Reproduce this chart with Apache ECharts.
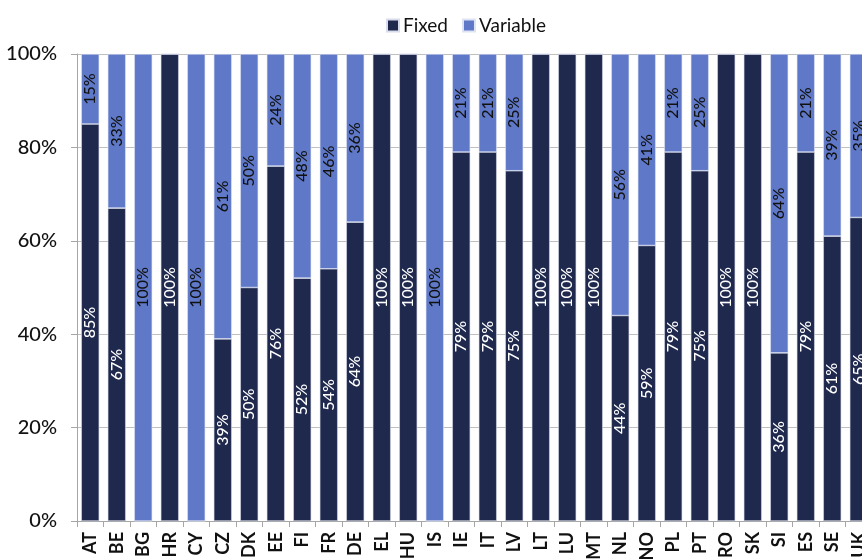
<!DOCTYPE html>
<html>
<head>
<meta charset="utf-8">
<title>Fixed vs Variable</title>
<script src="https://cdn.jsdelivr.net/npm/echarts@6/dist/echarts.min.js"></script>
<style>
  html, body { margin: 0; padding: 0; background: #ffffff; }
  #chart { width: 862px; height: 560px; }
</style>
</head>
<body>
<div id="chart"></div>
<script>
// Country codes along the x axis
const countries = ['AT','BE','BG','HR','CY','CZ','DK','EE','FI','FR','DE','EL','HU','IS','IE','IT','LV','LT','LU','MT','NL','NO','PL','PT','RO','SK','SI','ES','SE','UK'];

// Share of fixed component (%)
const fixedShare = [85,67,0,100,0,39,50,76,52,54,64,100,100,0,79,79,75,100,100,100,44,59,79,75,100,100,36,79,61,65];

// Share of variable component (%)
const variableShare = [15,33,100,0,100,61,50,24,48,46,36,0,0,100,21,21,25,0,0,0,56,41,21,25,0,0,64,21,39,35];

// Y axis tick values (%)
const yTicks = [0,20,40,60,80,100];

const FONT = 'Lato, "Open Sans", sans-serif';
const DARK = '#1f284d';
const LIGHT = '#5f79c8';

const chart = echarts.init(document.getElementById('chart'), null, { renderer: 'canvas' });

function pctLabel(p) {
  return p.value > 0 ? p.value + '%' : '';
}

chart.setOption({
  animation: false,
  backgroundColor: '#ffffff',
  legend: {
    left: 381,
    top: 11,
    itemWidth: 12,
    itemHeight: 12,
    itemGap: 14,
    icon: 'rect',
    textStyle: { fontFamily: FONT, fontSize: 19, color: '#111111', padding: [0, 0, 0, -1] },
    data: ['Fixed', 'Variable']
  },
  grid: {
    left: 77,
    top: 54,
    width: 795,
    height: 467,
    outerBoundsMode: 'none',
    containLabel: false
  },
  xAxis: {
    type: 'category',
    data: countries,
    axisLine: { show: true, lineStyle: { color: '#a6a6a6', width: 1 } },
    axisTick: { show: true, length: 6, alignWithLabel: false, lineStyle: { color: '#a6a6a6' } },
    axisLabel: {
      rotate: 90,
      interval: 0,
      margin: 11,
      fontFamily: FONT,
      fontSize: 18,
      fontWeight: 'bold',
      color: '#111111'
    }
  },
  yAxis: {
    type: 'value',
    min: 0,
    max: 100,
    interval: 20,
    axisLine: { show: true, lineStyle: { color: '#a6a6a6', width: 1 } },
    axisTick: { show: true, length: 6, lineStyle: { color: '#a6a6a6' } },
    splitLine: { show: true, lineStyle: { color: '#bfbfbf', width: 1 } },
    axisLabel: {
      margin: 20,
      fontFamily: FONT,
      fontSize: 20,
      fontWeight: 500,
      color: '#111111',
      formatter: function (v) { return yTicks.indexOf(v) >= 0 ? v + '%' : ''; }
    }
  },
  series: [
    {
      name: 'Fixed',
      type: 'bar',
      stack: 'total',
      barWidth: 18,
      data: fixedShare,
      itemStyle: { color: DARK, borderColor: '#d9dcea', borderWidth: 0.6 },
      label: {
        show: true,
        position: 'inside',
        rotate: 90,
        fontFamily: FONT,
        fontSize: 16,
        fontWeight: 500,
        color: '#ffffff',
        formatter: pctLabel
      }
    },
    {
      name: 'Variable',
      type: 'bar',
      stack: 'total',
      barWidth: 18,
      data: variableShare,
      itemStyle: { color: LIGHT, borderColor: '#dfe4f4', borderWidth: 0.6 },
      label: {
        show: true,
        position: 'inside',
        rotate: 90,
        fontFamily: FONT,
        fontSize: 16,
        fontWeight: 500,
        color: '#111111',
        formatter: pctLabel
      }
    }
  ]
});
</script>
</body>
</html>
